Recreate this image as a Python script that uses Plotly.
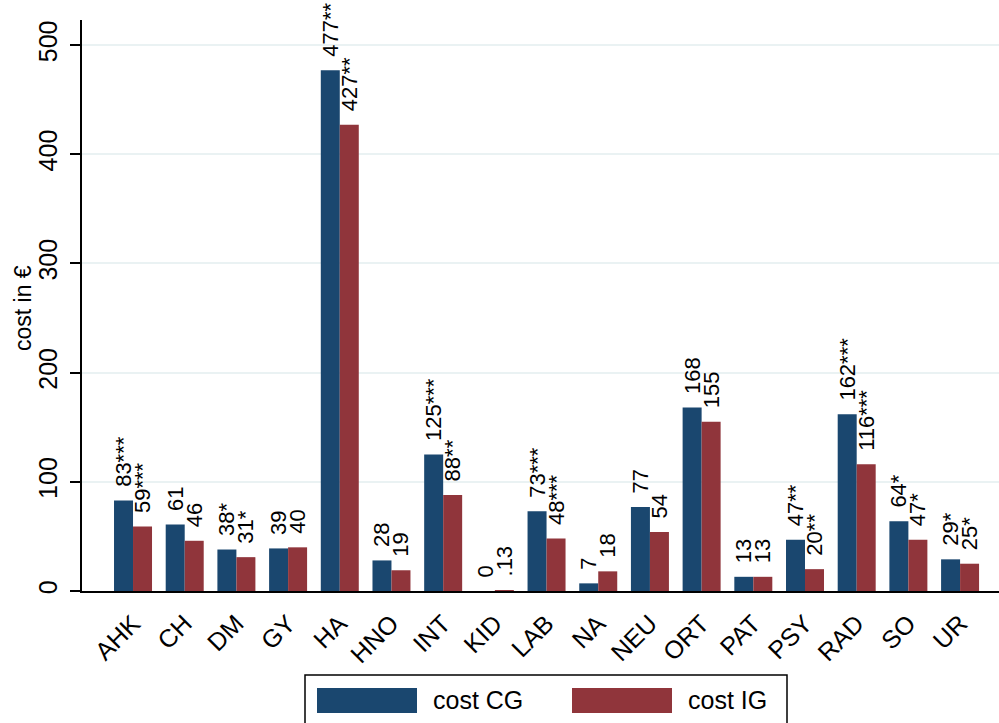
import plotly.graph_objects as go

# ---- data ----
categories = ["AHK", "CH", "DM", "GY", "HA", "HNO", "INT", "KID", "LAB",
              "NA", "NEU", "ORT", "PAT", "PSY", "RAD", "SO", "UR"]
cost_cg = [83, 61, 38, 39, 477, 28, 125, 0, 73, 7, 77, 168, 13, 47, 162, 64, 29]
cost_ig = [59, 46, 31, 40, 427, 19, 88, 0.13, 48, 18, 54, 155, 13, 20, 116, 47, 25]
stars_cg = ["***", "", "*", "", "**", "", "***", "", "***", "", "", "", "", "**", "***", "*", "*"]
stars_ig = ["***", "", "*", "", "**", "", "**", "", "***", "", "", "", "", "**", "***", "*", "*"]
series_names = ["cost CG", "cost IG"]
y_ticks = [0, 100, 200, 300, 400, 500]
y_title = "cost in €"

COL_CG = "#1a476f"
COL_IG = "#90353b"
FONT = "Liberation Sans, Arial, sans-serif"


def fmt(v):
    s = f"{v:g}"
    if 0 < abs(v) < 1:
        s = s.replace("0.", ".", 1)
    return s


pad = "\u00a0\u2009"
labels_cg = [pad + fmt(v) + s for v, s in zip(cost_cg, stars_cg)]
labels_ig = [pad + fmt(v) + s for v, s in zip(cost_ig, stars_ig)]

fig = go.Figure()
for name, vals, labs, col in [(series_names[0], cost_cg, labels_cg, COL_CG),
                              (series_names[1], cost_ig, labels_ig, COL_IG)]:
    fig.add_trace(go.Bar(
        x=categories, y=vals, name=name, text=labs,
        textposition="outside", textangle=-90, constraintext="none",
        textfont=dict(family=FONT, size=22, color="black"),
        marker=dict(color=col, line=dict(width=0)),
        cliponaxis=False, showlegend=False,
    ))

# plot-area geometry (px) used to place the hand-drawn legend and axis title
L, R, T, B, W, H = 82, 0, 20, 132, 999, 723
pw, ph = W - L - R, H - T - B


def px_x(x):
    return (x - L) / pw


def px_y(y):
    return (H - B - y) / ph


shapes = [
    dict(type="rect", xref="paper", yref="paper", x0=px_x(305), x1=px_x(787),
         y0=px_y(675), y1=px_y(740), line=dict(color="black", width=1.5),
         fillcolor="white", layer="above"),
    dict(type="rect", xref="paper", yref="paper", x0=px_x(317), x1=px_x(417),
         y0=px_y(688), y1=px_y(713), line=dict(width=0), fillcolor=COL_CG),
    dict(type="rect", xref="paper", yref="paper", x0=px_x(572), x1=px_x(672),
         y0=px_y(688), y1=px_y(713), line=dict(width=0), fillcolor=COL_IG),
]
annotations = [
    dict(text=series_names[0], xref="paper", yref="paper", x=px_x(431), y=px_y(700),
         xanchor="left", yanchor="middle", showarrow=False,
         font=dict(family=FONT, size=25, color="black")),
    dict(text=series_names[1], xref="paper", yref="paper", x=px_x(686), y=px_y(700),
         xanchor="left", yanchor="middle", showarrow=False,
         font=dict(family=FONT, size=25, color="black")),
    dict(text=y_title, xref="paper", yref="paper", x=px_x(23), y=px_y(308),
         xanchor="center", yanchor="middle", textangle=-90, showarrow=False,
         font=dict(family=FONT, size=23, color="black")),
]

fig.update_layout(
    width=W, height=H,
    margin=dict(l=L, r=R, t=T, b=B, autoexpand=False),
    paper_bgcolor="white", plot_bgcolor="white",
    font=dict(family=FONT, color="black"),
    barmode="group", bargap=0.265, bargroupgap=0,
    shapes=shapes, annotations=annotations,
    xaxis=dict(
        range=[-0.987, 16.753], showline=True, linecolor="black", linewidth=2,
        ticks="", tickangle=-45, tickfont=dict(size=25), ticklabelstandoff=6,
        showgrid=False, zeroline=False,
    ),
    yaxis=dict(
        range=[0, 523], tickvals=y_ticks, showline=True, linecolor="black",
        linewidth=2, ticks="outside", ticklen=10, tickwidth=2, tickcolor="black",
        tickangle=-90, tickfont=dict(size=25), ticklabelstandoff=3,
        showgrid=True, gridcolor="#eaf2f3", gridwidth=2, zeroline=False,
    ),
)

fig.write_html(
    "out.html",
    config={"displayModeBar": False},
    post_script="document.body.style.margin='0px';document.body.style.overflow='hidden';",
)
